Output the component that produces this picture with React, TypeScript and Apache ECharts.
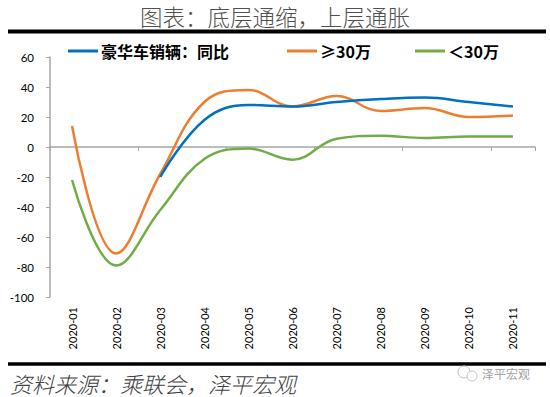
import React, { useEffect, useRef } from "react";
import * as echarts from "echarts";

const categories = ["2020-01", "2020-02", "2020-03", "2020-04", "2020-05", "2020-06", "2020-07", "2020-08", "2020-09", "2020-10", "2020-11"];
const luxuryYoY = [null, null, -20, 18, 28, 27, 30, 32, 33, 30, 27];
const above30 = [14, -71, -18, 30, 38, 27, 34, 24, 26, 20, 21];
const below30 = [-22, -79, -42, -8, -1, -8.5, 5.5, 7.5, 6, 7, 7];
const seriesNames = ["豪华车销辆：同比", "≥30万", "＜30万"];
const yTicks = { min: -100, max: 60, interval: 20 };

const CJK = "'Noto Sans CJK SC', sans-serif";
const NUM = "Lato, 'Noto Sans', sans-serif";

export default function App() {
  const ref = useRef<HTMLDivElement>(null);
  useEffect(() => {
    if (!ref.current) return;
    const chart = echarts.init(ref.current, undefined, { renderer: "svg" });
    const colors = ["#0070C0", "#ED7D31", "#70AD47"];
    const legendLefts = [63, 282, 410];
    chart.setOption({
      animation: false,
      backgroundColor: "#ffffff",
      color: colors,
      grid: { left: 50, right: 15, top: 57, bottom: 100, containLabel: false },
      legend: seriesNames.map((n, i) => ({
        data: [n],
        left: legendLefts[i],
        top: 38,
        icon: "rect",
        itemWidth: 30,
        itemHeight: 3,
        itemGap: 0,
        textStyle: { fontFamily: CJK, fontSize: 16, fontWeight: "bold", color: "#000", padding: [0, 0, 0, -2] },
      })),
      xAxis: [
        {
          type: "category",
          data: categories,
          boundaryGap: true,
          position: "bottom",
          axisLine: { show: true, onZero: true, lineStyle: { color: "#A6A6A6", width: 1.5 } },
          axisTick: { show: true, length: 4, lineStyle: { color: "#A6A6A6", width: 1 } },
          axisLabel: { show: false },
          splitLine: { show: false },
        },
        {
          type: "category",
          data: categories,
          boundaryGap: true,
          position: "bottom",
          axisLine: { show: false, onZero: false },
          axisTick: { show: false },
          axisLabel: { show: true, rotate: 90, margin: 10, fontFamily: NUM, fontSize: 11, color: "#000" },
          splitLine: { show: false },
        },
      ],
      yAxis: {
        type: "value",
        min: yTicks.min,
        max: yTicks.max,
        interval: yTicks.interval,
        axisLine: { show: true, lineStyle: { color: "#A6A6A6", width: 1.5 } },
        axisTick: { show: true, length: 4, lineStyle: { color: "#A6A6A6" } },
        axisLabel: { margin: 16, fontFamily: NUM, fontSize: 11.5, color: "#000" },
        splitLine: { show: false },
      },
      series: [
        { name: seriesNames[0], type: "line", data: luxuryYoY, smooth: 0.4, showSymbol: false, symbol: "none", lineStyle: { width: 2.5, color: colors[0] }, itemStyle: { color: colors[0] }, connectNulls: false, z: 3 },
        { name: seriesNames[1], type: "line", data: above30, smooth: 0.4, showSymbol: false, symbol: "none", lineStyle: { width: 2.5, color: colors[1] }, itemStyle: { color: colors[1] }, z: 2 },
        { name: seriesNames[2], type: "line", data: below30, smooth: 0.4, showSymbol: false, symbol: "none", lineStyle: { width: 2.5, color: colors[2] }, itemStyle: { color: colors[2] }, z: 2 },
      ],
      graphic: [
        {
          type: "text",
          left: "center",
          top: 3,
          style: { text: "图表：底层通缩，上层通胀", fontFamily: CJK, fontSize: 22.5, lineHeight: 26, fill: "#505050", fontWeight: 300 },
        },
        { type: "line", shape: { x1: 8, y1: 31.5, x2: 546, y2: 31.5 }, style: { stroke: "#000", lineWidth: 4 } },
        { type: "line", shape: { x1: 8, y1: 364, x2: 546, y2: 364 }, style: { stroke: "#000", lineWidth: 3.5 } },
        {
          type: "text",
          left: 10,
          top: 370,
          style: { text: "资料来源：乘联会，泽平宏观", fontFamily: CJK, fontSize: 22, lineHeight: 25, fontStyle: "italic", fill: "#404040", fontWeight: 300 },
        },
        { type: "circle", shape: { cx: 464, cy: 372, r: 6 }, style: { fill: "none", stroke: "#c0c0c0", lineWidth: 1 } },
        { type: "circle", shape: { cx: 472, cy: 376, r: 5 }, style: { fill: "#fff", stroke: "#c0c0c0", lineWidth: 1 } },
        {
          type: "text",
          left: 482,
          top: 367,
          style: { text: "泽平宏观", fontFamily: CJK, fontSize: 12, fill: "#a0a0a0" },
        },
      ],
    });
    return () => chart.dispose();
  }, []);
  return <div ref={ref} style={{ width: 550, height: 397, position: "absolute", left: 0, top: 0 }} />;
}
